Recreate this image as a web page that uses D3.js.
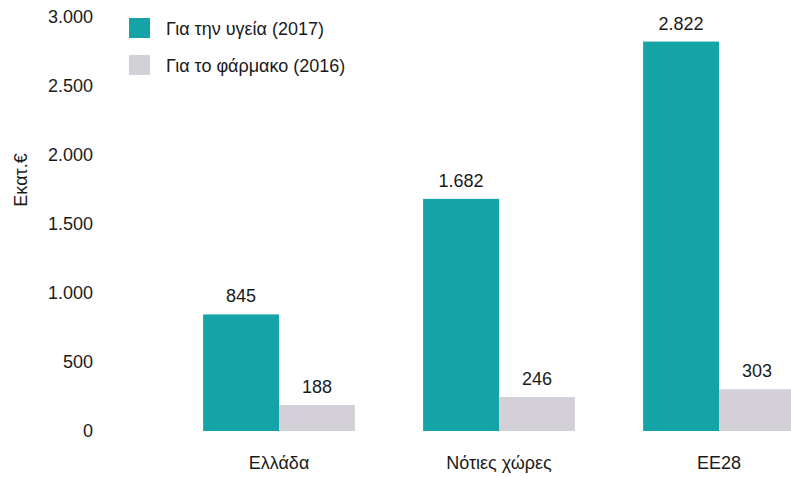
<!DOCTYPE html>
<html>
<head>
<meta charset="utf-8">
<script src="https://cdn.jsdelivr.net/npm/d3@7"></script>
<style>
  body { margin: 0; background: #fff; }
  svg { display: block; font-family: "Liberation Sans", Arial, sans-serif; }
</style>
</head>
<body>
<svg id="drawing_region"></svg>
<script>
// data
const categories = ['Ελλάδα', 'Νότιες χώρες', 'EE28'];
const seriesNames = ['Για την υγεία (2017)', 'Για το φάρμακο (2016)'];
const health2017 = [845, 1682, 2822];
const pharma2016 = [188, 246, 303];
const yTicks = [0, 500, 1000, 1500, 2000, 2500, 3000];
const yTitle = 'Εκατ.€';

const colors = ['#14a4a8', '#d3d1d7'];
const textColor = '#1a1a1a';

const width = 791, height = 477;
const svg = d3.select('#drawing_region')
    .attr('width', width)
    .attr('height', height);

const rows = categories.map((c, i) => ({ cat: c, values: [health2017[i], pharma2016[i]] }));

const x0 = d3.scaleBand()
    .domain(categories)
    .range([169, 829])
    .paddingInner(0.31)
    .paddingOuter(0.155);

const x1 = d3.scaleBand()
    .domain(d3.range(seriesNames.length))
    .range([0, x0.bandwidth()])
    .padding(0);

const y = d3.scaleLinear()
    .domain([0, 3000])
    .range([431, 17]);

const fmt = d3.formatLocale({ decimal: ',', thousands: '.', grouping: [3], currency: ['', '€'] }).format(',d');

// y axis (labels only)
const yaxis = d3.axisLeft(y)
    .tickValues(yTicks)
    .tickFormat(fmt)
    .tickSize(0)
    .tickPadding(0);

svg.append('g')
    .attr('transform', 'translate(93,0)')
    .call(yaxis)
    .call(g => g.select('.domain').remove())
    .call(g => g.selectAll('text')
        .style('font-size', '18px')
        .style('font-family', '"Liberation Sans", Arial, sans-serif')
        .attr('fill', textColor));

svg.append('text')
    .attr('transform', 'rotate(-90)')
    .attr('x', -180)
    .attr('y', 27)
    .attr('text-anchor', 'middle')
    .style('font-size', '18px')
    .attr('fill', textColor)
    .text(yTitle);

// bars
const groups = svg.append('g')
    .selectAll('g')
    .data(rows)
    .join('g')
    .attr('transform', d => `translate(${x0(d.cat)},0)`);

groups.selectAll('rect')
    .data(d => d.values.map((v, i) => ({ v, i })))
    .join('rect')
    .attr('x', d => x1(d.i))
    .attr('y', d => y(d.v))
    .attr('width', x1.bandwidth())
    .attr('height', d => y(0) - y(d.v))
    .attr('fill', d => colors[d.i]);

groups.selectAll('text.val')
    .data(d => d.values.map((v, i) => ({ v, i })))
    .join('text')
    .attr('class', 'val')
    .attr('x', d => x1(d.i) + x1.bandwidth() / 2)
    .attr('y', d => y(d.v) - 12)
    .attr('text-anchor', 'middle')
    .style('font-size', '18px')
    .attr('fill', textColor)
    .text(d => fmt(d.v));

// x axis (labels only)
const xaxis = d3.axisBottom(x0).tickSize(0).tickPadding(0);
svg.append('g')
    .attr('transform', 'translate(0,456)')
    .call(xaxis)
    .call(g => g.select('.domain').remove())
    .call(g => g.selectAll('text')
        .style('font-size', '18px')
        .style('font-family', '"Liberation Sans", Arial, sans-serif')
        .attr('fill', textColor));

// legend
const legend = svg.append('g')
    .selectAll('g')
    .data(seriesNames)
    .join('g')
    .attr('transform', (d, i) => `translate(129,${18 + i * 37})`);

legend.append('rect')
    .attr('width', 21)
    .attr('height', 20)
    .attr('fill', (d, i) => colors[i]);

legend.append('text')
    .attr('x', 37)
    .attr('y', 17)
    .style('font-size', '18px')
    .attr('fill', textColor)
    .text(d => d);
</script>
</body>
</html>
